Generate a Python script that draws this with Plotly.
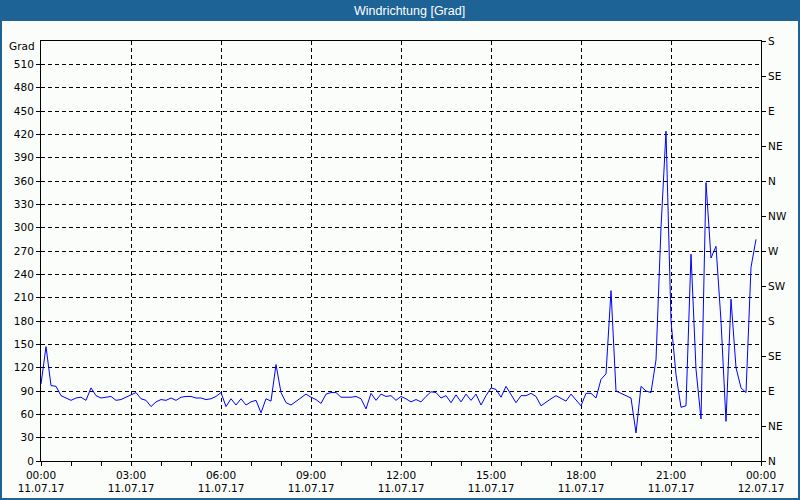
import plotly.graph_objects as go
import pandas as pd

# ---- data ----
times = pd.date_range("2017-07-11 00:00", periods=144, freq="10min")
direction = [
    99, 147, 97, 96, 84, 81, 78, 81, 82, 78,
    94, 84, 81, 82, 83, 78, 79, 82, 85, 88,
    80, 78, 70, 76, 79, 78, 81, 78, 82, 83,
    83, 81, 81, 79, 80, 83, 88, 70, 80, 72,
    80, 72, 76, 78, 62, 80, 77, 124, 88, 75,
    72, 77, 81, 86, 82, 79, 74, 86, 88, 88,
    82, 82, 82, 83, 80, 67, 87, 78, 86, 83,
    84, 78, 83, 80, 76, 79, 76, 83, 89, 88,
    81, 84, 75, 85, 76, 86, 78, 86, 72, 84,
    94, 92, 82, 96, 86, 75, 84, 84, 87, 83,
    71, 76, 80, 84, 81, 77, 86, 79, 71, 87,
    87, 81, 105, 112, 219, 90, 87, 84, 81, 36,
    96, 90, 88, 130, 300, 424, 180, 111, 69, 71,
    266, 118, 54, 358, 261, 276, 180, 51, 208, 120,
    94, 88, 249, 285,
]
left_tick_vals = [0, 30, 60, 90, 120, 150, 180, 210, 240, 270, 300, 330, 360, 390, 420, 450, 480, 510]
right_tick_vals = [0, 45, 90, 135, 180, 225, 270, 315, 360, 405, 450, 495, 540]
right_tick_text = ["N", "NE", "E", "SE", "S", "SW", "W", "NW", "N", "NE", "E", "SE", "S"]
x_tick_vals = ["2017-07-11 00:00", "2017-07-11 03:00", "2017-07-11 06:00", "2017-07-11 09:00",
               "2017-07-11 12:00", "2017-07-11 15:00", "2017-07-11 18:00", "2017-07-11 21:00",
               "2017-07-12 00:00"]
x_tick_text = ["00:00<br>11.07.17", "03:00<br>11.07.17", "06:00<br>11.07.17", "09:00<br>11.07.17",
               "12:00<br>11.07.17", "15:00<br>11.07.17", "18:00<br>11.07.17", "21:00<br>11.07.17",
               "00:00<br>12.07.17"]
title_text = "Windrichtung [Grad]"
unit_text = "Grad"

# ---- geometry helpers (pixels -> paper) ----
W, H = 800, 500
ML, MR, MT, MB = 41, 39, 41, 39
PW, PH = W - ML - MR, H - MT - MB
def px(x):
    return (x - ML) / PW
def py(y):
    return (H - MB - y) / PH

BLUE = "#1d6396"
BG = "#fbfdfa"
FONT = dict(family="DejaVu Sans", size=10.5, color="black")
DASH = "4px,3px"

fig = go.Figure()
fig.add_trace(go.Scatter(x=times, y=direction, mode="lines",
                         line=dict(color="#0000ff", width=1), showlegend=False))
fig.add_trace(go.Scatter(x=[times[0]], y=[0], mode="markers", marker=dict(opacity=0),
                         yaxis="y2", showlegend=False, hoverinfo="skip"))

fig.update_layout(
    width=W, height=H,
    margin=dict(l=ML, r=MR, t=MT, b=MB, pad=0, autoexpand=False),
    paper_bgcolor=BG, plot_bgcolor=BG,
    font=FONT, showlegend=False,
    xaxis=dict(type="date", range=["2017-07-11 00:00", "2017-07-12 00:00"],
               tickvals=x_tick_vals, ticktext=x_tick_text, automargin=False,
               ticks="outside", ticklen=4, tickcolor="black", tickwidth=1,
               showline=True, linecolor="black", linewidth=1, mirror=True,
               showgrid=True, gridcolor="black", gridwidth=1, griddash=DASH,
               zeroline=False, tickfont=FONT,
               minor=dict(dtick=3600000, ticks="outside", ticklen=4,
                          tickcolor="black", showgrid=False)),
    yaxis=dict(range=[0, 540], tickvals=left_tick_vals, automargin=False,
               ticks="outside", ticklen=4, tickcolor="black",
               showline=True, linecolor="black", linewidth=1,
               showgrid=True, gridcolor="black", gridwidth=1, griddash=DASH,
               zeroline=False, tickfont=FONT),
    yaxis2=dict(range=[0, 540], overlaying="y", side="right", automargin=False,
                tickvals=right_tick_vals, ticktext=right_tick_text,
                ticks="outside", ticklen=4, tickcolor="black",
                showline=True, linecolor="black", linewidth=1,
                showgrid=False, zeroline=False, tickfont=FONT),
    shapes=[
        dict(type="rect", xref="paper", yref="paper",
             x0=px(0), x1=px(800), y0=py(21), y1=py(0),
             fillcolor=BLUE, line=dict(width=0), layer="above"),
        dict(type="rect", xref="paper", yref="paper",
             x0=px(1), x1=px(799), y0=py(499), y1=py(1),
             fillcolor="rgba(0,0,0,0)", line=dict(color=BLUE, width=2), layer="above"),
    ],
    annotations=[
        dict(text=title_text, xref="paper", yref="paper", x=px(409), y=py(10.5),
             xanchor="center", yanchor="middle", showarrow=False,
             font=dict(family="Liberation Sans", size=12.5, color="white")),
        dict(text=unit_text, xref="paper", yref="paper", x=px(37), y=py(46),
             xanchor="right", yanchor="middle", showarrow=False, font=FONT),
    ],
)

fig.write_html("out.html", config={"displayModeBar": False},
               post_script="document.body.style.margin='0';document.body.style.overflow='hidden';")
